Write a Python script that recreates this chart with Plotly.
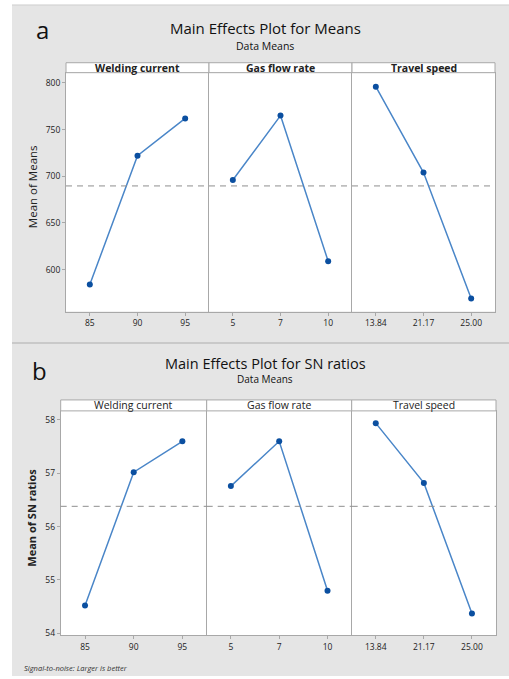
import plotly.graph_objects as go

W, H = 509, 679

factors = ["Welding current", "Gas flow rate", "Travel speed"]
wc_levels = ["85", "90", "95"]
gf_levels = ["5", "7", "10"]
ts_levels = ["13.84", "21.17", "25.00"]

means_wc = [584, 722, 762]
means_gf = [696, 765, 609]
means_ts = [796, 704, 569]

sn_wc = [54.52, 57.02, 57.60]
sn_gf = [56.76, 57.60, 54.80]
sn_ts = [57.94, 56.82, 54.37]

mean_ticks = [600, 650, 700, 750, 800]
sn_ticks = [54, 55, 56, 57, 58]

FONT = "Open Sans"
LINE_C = "#4a86c8"
MARK_C = "#0b4fa0"
FRAME_C = "#a8a8a8"
BG_C = "#e5e5e5"


def px(x):
    return x / W


def py(y):
    return 1 - y / H


fig = go.Figure()

rows = [
    dict(levels=[wc_levels, gf_levels, ts_levels], vals=[means_wc, means_gf, means_ts],
         xs=[66, 209, 352, 495], top=73, bot=313, strip_top=63,
         yrange=[555, 811], ticks=mean_ticks, bold_strip=True),
    dict(levels=[wc_levels, gf_levels, ts_levels], vals=[sn_wc, sn_gf, sn_ts],
         xs=[60.7, 206.7, 351.7, 496], top=412.7, bot=638.3, strip_top=401.7,
         yrange=[53.96, 58.17], ticks=sn_ticks, bold_strip=False),
]

shapes = []
annotations = []
shapes.append(dict(type="rect", xref="paper", yref="paper", x0=px(12), x1=1, y0=py(344), y1=py(5),
                   fillcolor=BG_C, line=dict(width=0), layer="below"))
shapes.append(dict(type="rect", xref="paper", yref="paper", x0=px(12), x1=1, y0=0, y1=py(345),
                   fillcolor=BG_C, line=dict(width=0), layer="below"))
shapes.append(dict(type="line", xref="paper", yref="paper", x0=px(12), x1=1, y0=py(344.5), y1=py(344.5),
                   line=dict(color="#c9c9c9", width=2)))
shapes.append(dict(type="line", xref="paper", yref="paper", x0=px(12), x1=1, y0=py(5), y1=py(5),
                   line=dict(color="#cfcfcf", width=1)))

idx = 0
for r, row in enumerate(rows):
    first_y = None
    all_vals = [v for s in row["vals"] for v in s]
    grand = sum(all_vals) / len(all_vals)
    for c in range(3):
        idx += 1
        xa = "xaxis" if idx == 1 else f"xaxis{idx}"
        ya = "yaxis" if idx == 1 else f"yaxis{idx}"
        xr = "x" if idx == 1 else f"x{idx}"
        yr = "y" if idx == 1 else f"y{idx}"
        x0, x1 = row["xs"][c], row["xs"][c + 1]
        shapes.append(dict(type="rect", xref="paper", yref="paper", x0=px(x0), x1=px(x1),
                           y0=py(row["bot"]), y1=py(row["top"]), fillcolor="white",
                           line=dict(width=0), layer="below"))
        shapes.append(dict(type="rect", xref="paper", yref="paper", x0=px(x0), x1=px(x1),
                           y0=py(row["top"]), y1=py(row["strip_top"]), fillcolor="white",
                           line=dict(color=FRAME_C, width=1)))
        annotations.append(dict(xref="paper", yref="paper", x=px((x0 + x1) / 2),
                                y=py((row["top"] + row["strip_top"]) / 2), showarrow=False,
                                text=(f"<b>{factors[c]}</b>" if row["bold_strip"] else factors[c]),
                                font=dict(family=FONT, size=10.5, color="#222"),
                                xanchor="center", yanchor="middle"))
        fig.add_trace(go.Scatter(x=[1, 2, 3], y=row["vals"][c], xaxis=xr, yaxis=yr,
                                 mode="lines+markers", line=dict(color=LINE_C, width=1.5),
                                 marker=dict(color=MARK_C, size=6), showlegend=False,
                                 hoverinfo="skip"))
        fig.layout[xa] = dict(domain=[px(x0), px(x1)], anchor=yr, range=[0.5, 3.5],
                              tickvals=[1, 2, 3], ticktext=row["levels"][c],
                              showline=True, mirror=True, linecolor=FRAME_C, linewidth=1,
                              ticks="outside", ticklen=3, tickcolor=FRAME_C,
                              showgrid=False, zeroline=False, fixedrange=True,
                              tickfont=dict(family=FONT, size=8.5, color="#222"))
        ydict = dict(domain=[py(row["bot"]), py(row["top"])], anchor=xr, range=row["yrange"],
                     showline=True, mirror=(True if c == 2 else False), linecolor=FRAME_C,
                     linewidth=1, showgrid=False, zeroline=False, fixedrange=True)
        if c == 0:
            first_y = yr
            ydict.update(tickvals=row["ticks"], ticks="outside", ticklen=3, tickcolor=FRAME_C,
                         tickfont=dict(family=FONT, size=8.5, color="#222"))
        else:
            ydict.update(matches=first_y, showticklabels=False, ticks="")
        fig.layout[ya] = ydict
        shapes.append(dict(type="line", xref="paper", yref=yr, x0=px(x0), x1=px(x1),
                           y0=grand, y1=grand,
                           line=dict(color="#8f8f8f", width=1, dash="6px,5px")))

annotations += [
    dict(xref="paper", yref="paper", x=px(42), y=py(30), text="a", showarrow=False,
         font=dict(family=FONT, size=24, color="#111"), xanchor="center", yanchor="middle"),
    dict(xref="paper", yref="paper", x=px(265), y=py(28), text="Main Effects Plot for Means",
         showarrow=False, font=dict(family=FONT, size=15, color="#111"),
         xanchor="center", yanchor="middle"),
    dict(xref="paper", yref="paper", x=px(265), y=py(46), text="Data Means",
         showarrow=False, font=dict(family=FONT, size=10.5, color="#111"),
         xanchor="center", yanchor="middle"),
    dict(xref="paper", yref="paper", x=px(32), y=py(187), text="Mean of Means", textangle=-90,
         showarrow=False, font=dict(family=FONT, size=11.5, color="#222"),
         xanchor="center", yanchor="middle"),
    dict(xref="paper", yref="paper", x=px(39), y=py(372), text="b", showarrow=False,
         font=dict(family=FONT, size=24, color="#111"), xanchor="center", yanchor="middle"),
    dict(xref="paper", yref="paper", x=px(265), y=py(365), text="Main Effects Plot for SN ratios",
         showarrow=False, font=dict(family=FONT, size=14.5, color="#111"),
         xanchor="center", yanchor="middle"),
    dict(xref="paper", yref="paper", x=px(265), y=py(381), text="Data Means",
         showarrow=False, font=dict(family=FONT, size=10, color="#111"),
         xanchor="center", yanchor="middle"),
    dict(xref="paper", yref="paper", x=px(32), y=py(520), text="<b>Mean of SN ratios</b>",
         textangle=-90, showarrow=False, font=dict(family=FONT, size=11, color="#222"),
         xanchor="center", yanchor="middle"),
    dict(xref="paper", yref="paper", x=px(22), y=py(671), text="<i>Signal-to-noise: Larger is better</i>",
         showarrow=False, font=dict(family=FONT, size=7.5, color="#333"),
         xanchor="left", yanchor="middle"),
]

fig.update_layout(width=W, height=H, margin=dict(l=0, r=0, t=0, b=0),
                  paper_bgcolor="white", plot_bgcolor="white",
                  shapes=shapes, annotations=annotations, showlegend=False)

fig.write_html("out.html", config={"displayModeBar": False},
               post_script="document.body.style.margin='0';document.body.style.overflow='hidden';")
